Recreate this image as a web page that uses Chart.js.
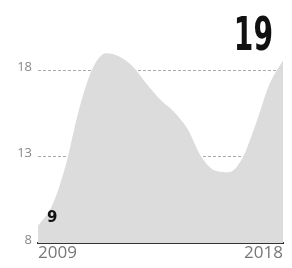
<!DOCTYPE html>
<html>
<head>
<meta charset="utf-8">
<script src="https://cdn.jsdelivr.net/npm/chart.js@4"></script>
<style>
  html, body { margin: 0; padding: 0; background: #fff; }
  #wrap { width: 292px; height: 268px; position: relative; }
</style>
</head>
<body>
<div id="wrap"><canvas id="grafico"></canvas></div>
<script>
// half-year steps, 2009 -> 2018
const anos = [2009, 2009.5, 2010, 2010.5, 2011, 2011.5, 2012, 2012.5, 2013, 2013.5,
              2014, 2014.5, 2015, 2015.5, 2016, 2016.5, 2017, 2017.5, 2018];
const valores = [9.0, 10.1, 12.4, 15.7, 18.1, 19.0, 18.8, 18.2, 17.2, 16.3,
                 15.6, 14.6, 13.0, 12.2, 12.1, 12.9, 14.9, 17.2, 18.6];
const ticksY = [8, 13, 18];
const ticksX = [2009, 2018];
const rotuloInicio = '9';
const rotuloFim = '19';

const rotulos = {
    id: 'rotulos',
    afterDatasetsDraw(chart) {
        const ctx = chart.ctx;
        const x = chart.scales.x, y = chart.scales.y;
        ctx.save();
        // valor inicial
        ctx.fillStyle = '#111';
        ctx.font = 'bold 15px "DejaVu Sans"';
        ctx.textAlign = 'left';
        ctx.textBaseline = 'alphabetic';
        ctx.fillText(rotuloInicio, x.getPixelForValue(anos[0]) + 9, y.getPixelForValue(valores[0]) - 4);
        // valor final, grande e condensado
        ctx.font = 'bold 46px "Liberation Sans Narrow", "DejaVu Sans Condensed"';
        ctx.textAlign = 'right';
        ctx.translate(273, 50);
        ctx.scale(0.68, 1);
        ctx.fillText(rotuloFim, 0, 0);
        ctx.restore();
    }
};

const chart = new Chart(document.getElementById('grafico'), {
    type: 'line',
    data: {
        datasets: [{
            data: anos.map((a, i) => ({ x: a, y: valores[i] })),
            fill: 'start',
            backgroundColor: '#dcdcdc',
            borderWidth: 0,
            pointRadius: 0,
            cubicInterpolationMode: 'monotone'
        }]
    },
    options: {
        responsive: true,
        maintainAspectRatio: false,
        animation: false,
        layout: { padding: { top: 36, right: 9, left: 0, bottom: 0 } },
        plugins: { legend: { display: false }, tooltip: { enabled: false } },
        scales: {
            x: {
                type: 'linear',
                min: 2009,
                max: 2018,
                afterBuildTicks: s => { s.ticks = ticksX.map(v => ({ value: v })); },
                afterFit: s => { s.height = 25; },
                grid: { display: false, drawTicks: false },
                border: { color: '#333', width: 2 },
                ticks: {
                    color: '#777',
                    font: { family: 'Open Sans', size: 17 },
                    padding: 0,
                    maxRotation: 0,
                    callback: v => String(v),
                    align: 'inner'
                }
            },
            y: {
                min: 8,
                max: 20,
                afterBuildTicks: s => { s.ticks = ticksY.map(v => ({ value: v })); },
                afterFit: s => { s.width = 38; },
                grid: {
                    color: '#aaa',
                    lineWidth: 1,
                    drawTicks: false
                },
                border: { display: false, dash: [3, 2] },
                ticks: {
                    color: '#888',
                    font: { family: 'Open Sans', size: 13 },
                    padding: 6,
                    labelOffset: -3
                }
            }
        }
    },
    plugins: [rotulos]
});
</script>
</body>
</html>
